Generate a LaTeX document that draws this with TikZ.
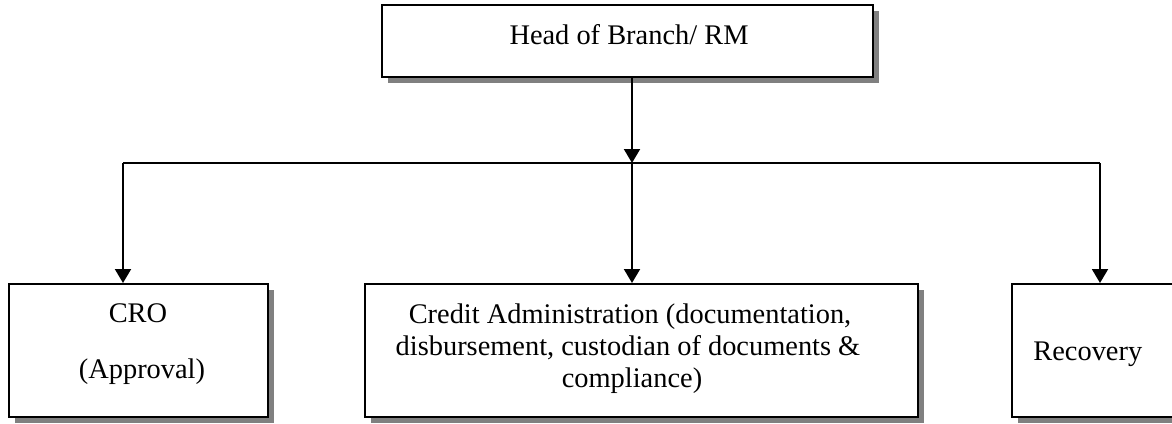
\documentclass[tikz,border=0pt]{standalone}
\usepackage{fontspec}
\setmainfont{Liberation Serif}
\usetikzlibrary{arrows.meta,shadows}
\begin{document}
\begin{tikzpicture}[x=0.5pt,y=-0.5pt,
  box/.style={draw=black,line width=1pt,fill=white,rectangle,inner sep=0pt,
    drop shadow={shadow xshift=3pt,shadow yshift=-3pt,fill=black!50,opacity=1}},
  txt/.style={inner sep=0pt,anchor=base,font=\fontsize{14.2}{16}\selectfont},
  conn/.style={line width=1pt,draw=black},
  arr/.style={conn,-{Triangle[width=8pt,length=7pt]}}]
\useasboundingbox (0,0) rectangle (1172,423);
\clip (0,0) rectangle (1172,423);
% boxes
\node[box,minimum width=245.5pt,minimum height=36pt] (top) at (627.5,41) {};
\node[box,minimum width=129.5pt,minimum height=66.5pt] (cro) at (138.5,350.5) {};
\node[box,minimum width=276.5pt,minimum height=66.5pt] (cad) at (641.5,350.5) {};
\node[box,minimum width=94pt,minimum height=66.5pt] (rec) at (1106,350.5) {};
% texts
\node[txt] (ttop) at (629,44) {Head of Branch/ RM};
\node[txt] (tcro1) at (138,322) {CRO};
\node[txt] (tcro2) at (142,378) {(Approval)};
\node[txt] (tcad1) at (630,323) {Credit Administration (documentation,};
\node[txt] (tcad2) at (628,355) {disbursement, custodian of documents \&};
\node[txt] (tcad3) at (632,387) {compliance)};
\node[txt,anchor=base west] (trec) at (1033,360) {Recovery};
% connectors
\coordinate (j) at (632,163);
\coordinate (hl) at (123,163);
\coordinate (hr) at (1100,163);
\draw[arr] (top.south -| j) -- (j);
\draw[conn] (hl) -- (hr);
\draw[arr] (hl) -- (hl |- cro.north);
\draw[arr] (j) -- (j |- cad.north);
\draw[arr] (hr) -- (hr |- rec.north);
\end{tikzpicture}
\end{document}
